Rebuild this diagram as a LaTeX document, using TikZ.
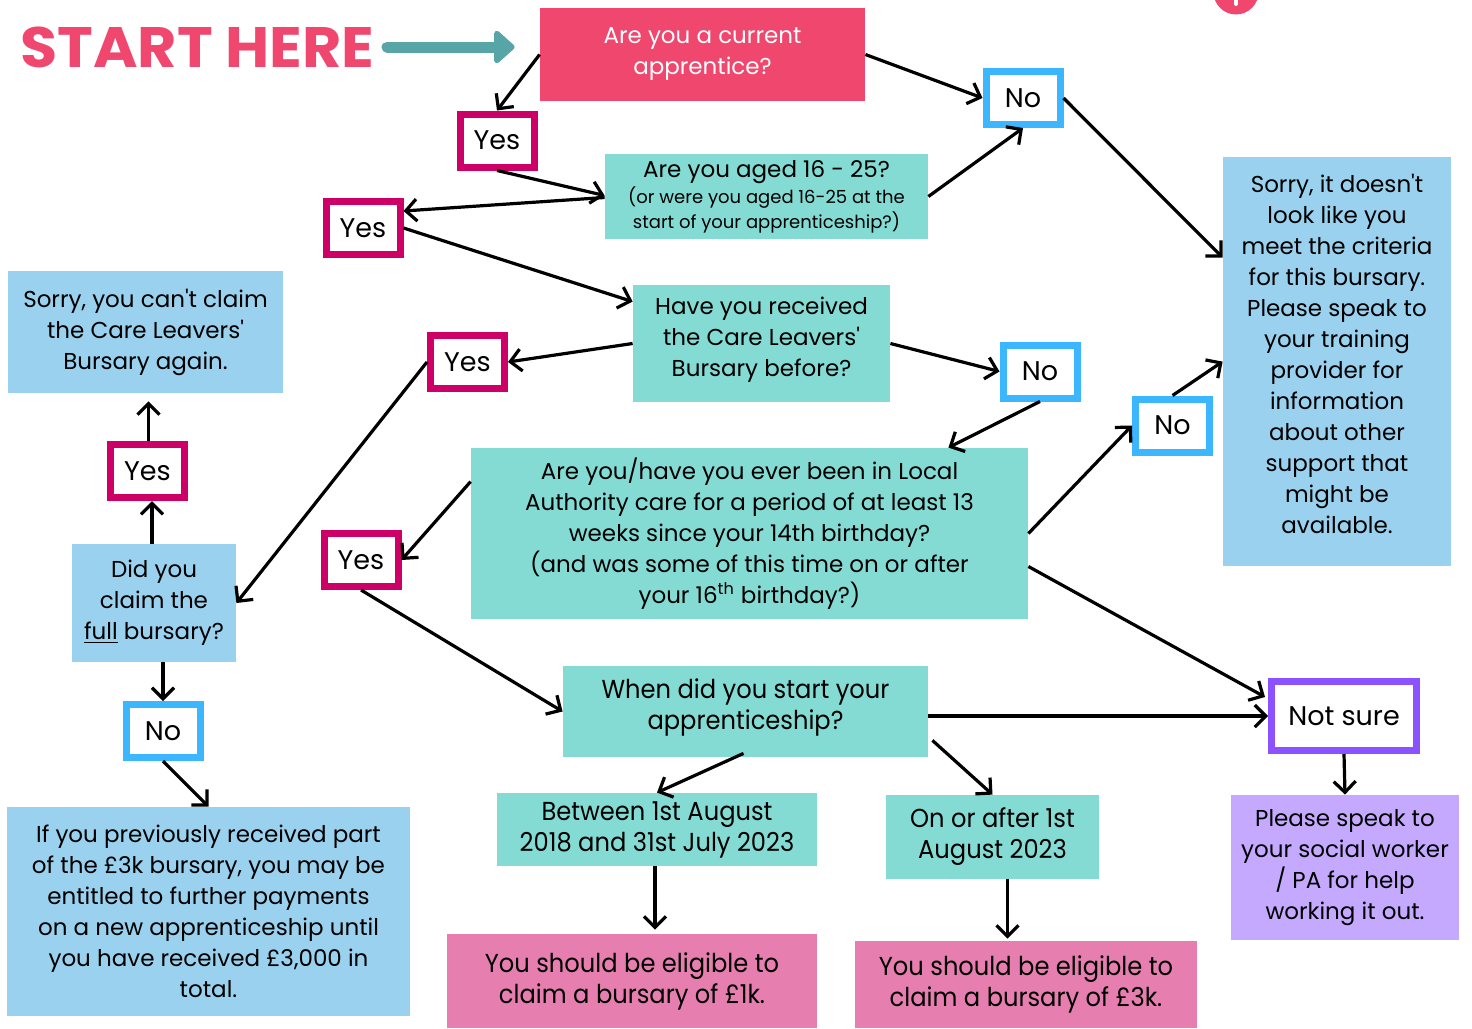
\documentclass[tikz,border=0pt]{standalone}
\usepackage{fontspec}
\setmainfont{Poppins}[Ligatures=TeXOff]
\newfontfamily\condfont[FakeStretch=0.93,Ligatures=TeXOff]{Poppins}
\newfontfamily\widefont[FakeStretch=1.06,Ligatures=TeXOff]{Poppins}
\usetikzlibrary{arrows.meta,calc}
\definecolor{hotpink}{HTML}{F0476F}
\definecolor{qteal}{HTML}{84DBD4}
\definecolor{skyblue}{HTML}{99D1EE}
\definecolor{yesred}{HTML}{CC0066}
\definecolor{noblue}{HTML}{3BB6FF}
\definecolor{unsure}{HTML}{8C52FF}
\definecolor{lilac}{HTML}{C5A9FF}
\definecolor{eligpink}{HTML}{E67FB0}
\definecolor{startteal}{HTML}{57A5A6}
\newcommand{\bodyfont}{\fontsize{11.5}{15.5}\selectfont}
\newcommand{\condbody}{\condfont\fontsize{13}{15.5}\selectfont}
\newcommand{\subfont}{\fontsize{9}{12}\selectfont}
\begin{document}
\begin{tikzpicture}[x=0.5pt,y=-0.5pt]
    \tikzstyle{qbox} = [rectangle, fill=qteal, inner sep=0pt, align=center, font=\bodyfont]
    \tikzstyle{infobox} = [rectangle, fill=skyblue, inner sep=0pt, align=center, font=\bodyfont]
    \tikzstyle{eligbox} = [rectangle, fill=eligpink, inner sep=0pt, align=center, font=\condbody]
    \tikzstyle{yesbox} = [rectangle, draw=yesred, fill=white, line width=3.5pt, minimum width=37pt, minimum height=26.5pt, font=\fontsize{13.5}{16}\selectfont]
    \tikzstyle{nobox} = [yesbox, draw=noblue]
    \tikzstyle{arr} = [-{Straight Barb[length=5.5pt,width=11pt]}, line width=1.6pt]
    \clip (0,0) rectangle (1472,1028);
        % start
        \node[font=\widefont\bfseries\fontsize{28.5}{30}\selectfont, text=hotpink, inner sep=0pt, anchor=west] (start) at (20,47) {START HERE};
        \fill[hotpink] (1236,-8) circle (11.25pt);
        \draw[white, line width=2pt, line cap=round] (1236,-8) -- (1236,4);
        % questions
        \node[qbox, fill=hotpink, text=white, minimum width=162.5pt, minimum height=46.5pt] (q1) at (702.5,54.5) {Are you a current\\apprentice?};
        \node[qbox, minimum width=161.5pt, minimum height=42.5pt] (q2) at (766.5,196.5) {Are you aged 16 - 25?\\[-2.5pt]{\subfont (or were you aged 16-25 at the}\\[-3pt]{\subfont start of your apprenticeship?)}};
        \node[qbox, text depth=6.5pt, minimum width=128.5pt, minimum height=58.5pt] (q3) at (761.5,343.5) {Have you received\\the Care Leavers'\\Bursary before?};
        \node[qbox, minimum width=278.5pt, minimum height=85.5pt] (q4) at (749.5,533.5) {Are you/have you ever been in Local\\Authority care for a period of at least 13\\weeks since your 14th birthday?\\(and was some of this time on or after\\your 16\textsuperscript{th} birthday?)};
        \node[qbox, font=\condbody, text depth=7.5pt, minimum width=182.5pt, minimum height=45.5pt] (q5) at (745.5,711.5) {When did you start your\\apprenticeship?};
        \node[qbox, font=\condbody, minimum width=160pt, minimum height=36.5pt] (between) at (657,829.5) {Between 1st August\\2018 and 31st July 2023};
        \node[qbox, font=\condbody, minimum width=106.5pt, minimum height=42pt] (onafter) at (992.5,837) {On or after 1st\\August 2023};
        % answers
        \node[yesbox] (yes1) at (497,140.5) {Yes};
        \node[nobox] (no1) at (1023,98) {No};
        \node[yesbox] (yes2) at (363,228) {Yes};
        \node[yesbox] (yes3) at (467.5,362) {Yes};
        \node[nobox] (no2) at (1040,371.5) {No};
        \node[yesbox] (yes4) at (361,560) {Yes};
        \node[nobox] (no3) at (1172.5,425.5) {No};
        \node[yesbox] (yesL) at (147.5,471) {Yes};
        \node[nobox] (noL) at (163,731) {No};
        \node[yesbox, draw=unsure, minimum width=72.5pt, minimum height=34.5pt] (notsure) at (1344,716) {Not sure};
        % outcomes
        \node[infobox, text depth=8pt, minimum width=114pt, minimum height=204.5pt] (sorry) at (1337,361.5) {Sorry, it doesn't\\look like you\\meet the criteria\\for this bursary.\\Please speak to\\your training\\provider for\\information\\about other\\support that\\might be\\available.};
        \node[infobox, minimum width=137.5pt, minimum height=61pt] (again) at (145.5,332) {Sorry, you can't claim\\the Care Leavers'\\Bursary again.};
        \node[infobox, minimum width=82pt, minimum height=59pt] (full) at (154,603) {Did you\\claim the\\\underline{full} bursary?};
        \node[infobox, minimum width=201.5pt, minimum height=104.5pt] (part) at (208.5,911.5) {If you previously received part\\of the £3k bursary, you may be\\entitled to further payments\\on a new apprenticeship until\\you have received £3,000 in\\total.};
        \node[rectangle, fill=lilac, inner sep=0pt, align=center, font=\bodyfont, minimum width=114pt, minimum height=72.5pt] (social) at (1345,867.5) {Please speak to\\your social worker\\/ PA for help\\working it out.};
        \node[eligbox, minimum width=185pt, minimum height=47pt] (onek) at (632,981) {You should be eligible to\\claim a bursary of £1k.};
        \node[eligbox, minimum width=171pt, minimum height=43.5pt] (threek) at (1026,984.5) {You should be eligible to\\claim a bursary of £3k.};
        % start arrow
        \draw[startteal, line width=5.5pt, line cap=round, -{Triangle[length=11pt,width=19pt,round]}] ([xshift=6pt]start.east) -- ([xshift=-12.5pt]start.east -| q1.west);
        % first questions
        \draw[arr] (q1.west) -- (yes1.north);
        \draw[arr] (q1.east) -- (no1.west);
        \draw[arr] (no1.east) -- ($(sorry.north west)+(0,101)$);
        \draw[arr] (yes1.south) -- ($(q2.west)+(0,-1)$);
        \draw[arr] ($(q2.west)+(0,1)$) -- ($(yes2.east)+(0,-17)$);
        \draw[arr] (q2.east) -- (no1.south);
        \draw[arr] (yes2.east) -- ($(q3.north west)+(0,17)$);
        % care leavers bursary before
        \draw[arr] (q3.west) -- (yes3.east);
        \draw[arr] (q3.east) -- (no2.west);
        \draw[arr] (no2.south) -- ($(q4.north east)+(-80,0)$);
        \draw[arr] (yes3.west) -- (full.east);
        \coordinate (fullup) at ([xshift=-1pt]full.north);
        \draw[arr] (fullup) -- (fullup |- yesL.south);
        \coordinate (yesup) at ([xshift=0.5pt]yesL.north);
        \draw[arr, shorten >=4pt] (yesup) -- (yesup |- again.south);
        \draw[arr] (noL.north |- full.south) -- (noL.north);
        \draw[arr] (noL.south) -- (part.north);
        % local authority care
        \draw[arr] ($(q4.north west)+(0,34)$) -- (yes4.east);
        \draw[arr] (q4.east) -- (no3.west);
        \draw[arr] (no3.north) -- ($(sorry.north west)+(0,205)$);
        \draw[arr] ($(q4.east)+(0,33)$) -- ($(notsure.north west)+(-3,19)$);
        \draw[arr] (yes4.south) -- (q5.west);
        % start date
        \draw[arr] (q5.east |- notsure.west) -- (notsure.west);
        \draw[arr] ($(q5.south)+(-2,-4)$) -- (between.north);
        \draw[arr] ($(q5.south east)+(4,-17)$) -- (onafter.north);
        \coordinate (betdown) at ([xshift=-1pt]between.south);
        \draw[arr, shorten >=2pt] (betdown) -- (betdown |- onek.north);
        \coordinate (ondown) at ([xshift=7.5pt]onafter.south);
        \draw[arr, shorten >=1pt] (ondown) -- (ondown |- threek.north);
        \draw[arr] (notsure.south) -- (social.north);
\end{tikzpicture}
\end{document}
